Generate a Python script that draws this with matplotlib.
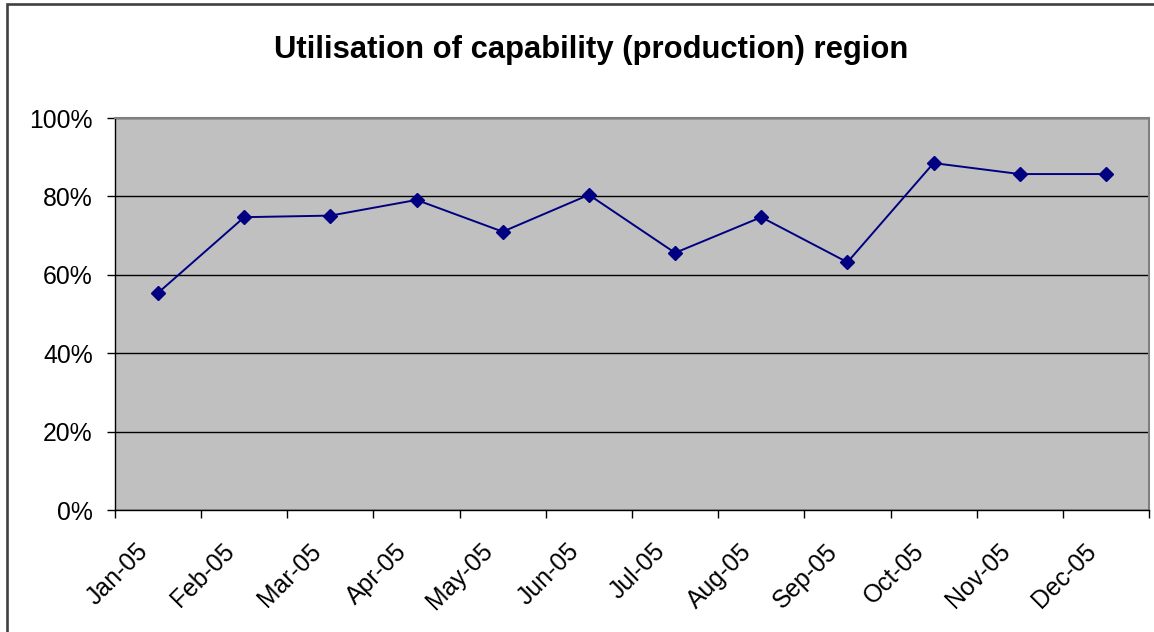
import matplotlib
matplotlib.use("Agg")
import matplotlib.pyplot as plt
from matplotlib.patches import Rectangle
from matplotlib.transforms import ScaledTranslation
from matplotlib.ticker import FixedLocator, FuncFormatter

months = ["Jan-05", "Feb-05", "Mar-05", "Apr-05", "May-05", "Jun-05",
          "Jul-05", "Aug-05", "Sep-05", "Oct-05", "Nov-05", "Dec-05"]
utilisation = [55.4, 74.7, 75.1, 79.1, 71.0, 80.4, 65.6, 74.7, 63.2, 88.5, 85.7, 85.7]
y_ticks = [0, 20, 40, 60, 80, 100]
title = "Utilisation of capability (production) region"

plt.rcParams['font.family'] = ['Liberation Sans', 'DejaVu Sans']

W, H = 1154, 632
fig = plt.figure(figsize=(W / 100, H / 100), dpi=100)
fig.patch.set_facecolor("white")

# outer chart border (cut at right/bottom)
fig.patches.append(Rectangle((6.5 / W, -0.2), 2.0, 1.2 - 4 / H,
                             transform=fig.transFigure, fill=False,
                             edgecolor="#404040", linewidth=1.9))

ax = fig.add_axes([115 / W, 1 - 510 / H, (1149 - 115) / W, (510 - 118) / H])
ax.set_facecolor("#C0C0C0")

x = list(range(len(months)))
ax.plot(x, utilisation, color="#000080", linewidth=1.4, marker="D",
        markersize=7.5, markerfacecolor="#000080", markeredgecolor="#000080",
        zorder=3)

ax.set_xlim(-0.5, len(months) - 0.5)
ax.set_ylim(0, 100)

# y axis
ax.set_yticks(y_ticks)
ax.yaxis.set_major_formatter(FuncFormatter(lambda v, p: f"{int(v)}%"))
ax.yaxis.grid(True, color="black", linewidth=1.0)
ax.set_axisbelow(True)
ax.tick_params(axis="y", direction="out", length=6, width=1, pad=10,
               labelsize=17.8, colors="black")

# x axis: major ticks at boundaries, labels at centers
ax.xaxis.set_major_locator(FixedLocator([i - 0.5 for i in range(len(months) + 1)]))
ax.xaxis.set_major_formatter(FuncFormatter(lambda v, p: ""))
ax.xaxis.set_minor_locator(FixedLocator(x))
ax.set_xticklabels(months, minor=True)
ax.tick_params(axis="x", which="major", direction="out", length=6, width=1)
ax.tick_params(axis="x", which="minor", length=0, pad=21, labelsize=17.8)
offset = ScaledTranslation(-22 / 100, 0, fig.dpi_scale_trans)
for lbl in ax.get_xticklabels(minor=True):
    lbl.set_rotation(45)
    lbl.set_ha("right")
    lbl.set_va("top")
    lbl.set_rotation_mode("anchor")
    lbl.set_transform(lbl.get_transform() + offset)

for side in ("top", "right"):
    ax.spines[side].set_color("#808080")
    ax.spines[side].set_linewidth(1.5)
for side in ("left", "bottom"):
    ax.spines[side].set_color("black")
    ax.spines[side].set_linewidth(1.0)

fig.text(591 / W, 1 - 50 / H, title, ha="center", va="center",
         fontsize=22.3, fontweight="bold", color="black")

fig.savefig("out.png", dpi=100)
